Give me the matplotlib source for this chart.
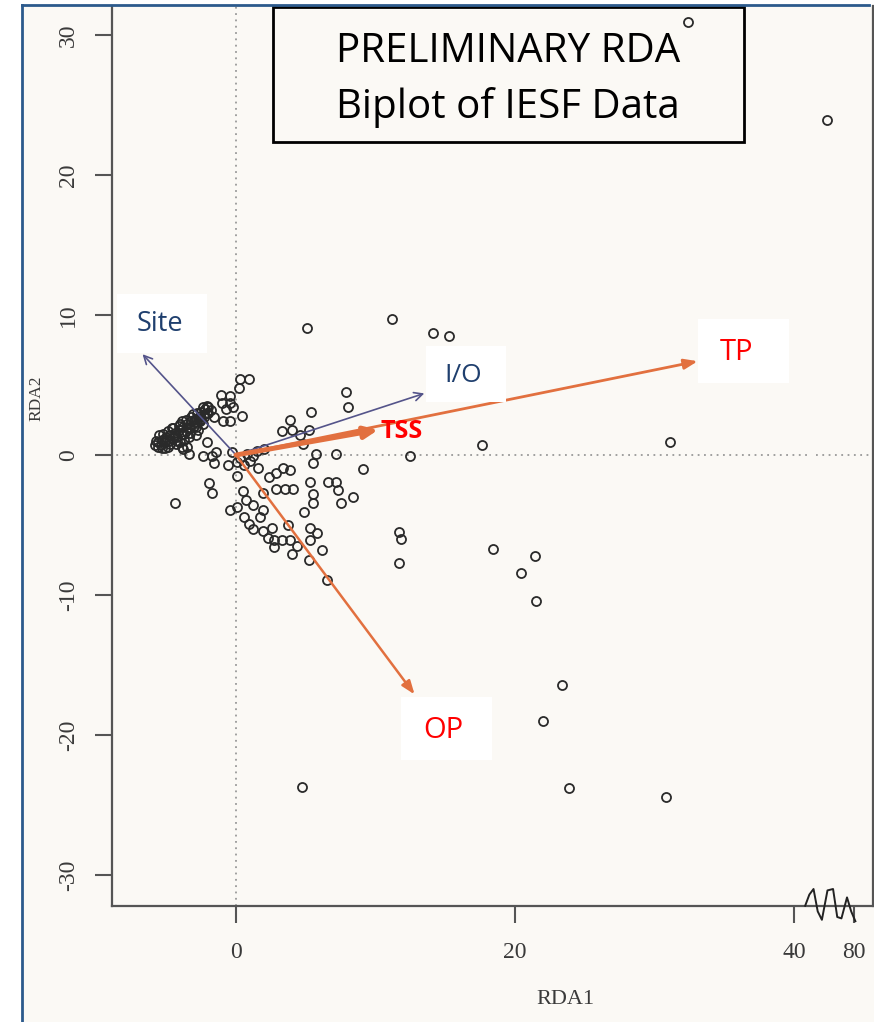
import numpy as np
import matplotlib.pyplot as plt
from matplotlib.patches import Rectangle
from matplotlib.lines import Line2D

# site scores (RDA1, RDA2)
outer_x = [32.4, 62.0, 5.1, 11.2, 14.1, 15.3, 17.6, 31.1, 12.5, 18.4, 20.4, 21.4, 21.5,
           23.4, 22.0, 23.9, 30.8, 4.7, -4.4, 11.7, 11.8, 11.7]
outer_y = [30.9, 23.9, 9.1, 9.7, 8.7, 8.5, 0.7, 0.9, -0.1, -6.7, -8.4, -7.2, -10.4,
           -16.4, -19.0, -23.8, -24.4, -23.7, -3.4, -5.5, -6.0, -7.7]

mid_x = [7.9, 8.0, 5.4, 3.9, 3.3, 4.0, 5.2, 4.6, 4.8, 5.7, 5.5, 7.2, 9.1, 5.3, 6.6, 7.2,
         7.3, 7.5, 8.4, 5.5, 5.5, 4.9, 5.3, 5.8, 5.3, 6.2, 5.2, 6.5]
mid_y = [4.5, 3.4, 3.1, 2.5, 1.7, 1.8, 1.8, 1.4, 0.8, 0.1, -0.6, 0.1, -1.0, -1.9, -1.9, -1.9,
         -2.5, -3.4, -3.0, -2.8, -3.4, -4.1, -5.2, -5.6, -6.1, -6.8, -7.5, -8.9]

near_x = [-0.6, 0.1, 0.1, 0.6, 1.2, 1.6, 2.4, 2.9, 3.4, 3.9, 3.5, 4.1, 2.9, 1.9, 0.5, 0.7,
          -0.4, 0.1, 1.2, 1.9, 0.6, 1.7, 0.9, 1.2, 1.9, 2.6, 2.3, 2.7, 3.3, 3.9, 4.4, 4.0,
          2.7, 3.7, -1.9, -1.7, 0.3, 0.8, 1.5, -0.3, 1.0, 2.0]
near_y = [-0.7, -0.5, -1.5, -0.7, -0.1, -0.9, -1.6, -1.3, -0.9, -1.1, -2.4, -2.4, -2.4, -2.7,
          -2.6, -3.2, -3.9, -3.7, -3.6, -3.9, -4.4, -4.4, -4.9, -5.3, -5.4, -5.2, -5.9, -6.1,
          -6.1, -6.1, -6.5, -7.1, -6.6, -5.0, -2.0, -2.7, -0.2, 0.1, 0.3, 0.2, -0.4, 0.4]

upper_x = [0.3, 0.9, 0.2, -1.1, -0.4, -1.0, -0.4, -0.7, -0.2, 0.4, -0.9, -0.4, -1.6, -2.1,
           -3.9, -3.4, -2.1, -1.4, -1.7, -2.4, -1.6]
upper_y = [5.4, 5.4, 4.8, 4.3, 4.2, 3.7, 3.7, 3.3, 3.4, 2.8, 2.4, 2.4, 2.7, 3.0,
           0.6, 0.1, 0.9, 0.2, -0.1, -0.1, -0.6]

blob_x = [-5.8, -5.6, -5.4, -5.3, -5.1, -5.0, -4.8, -4.7, -4.5, -4.4, -4.2, -4.1, -3.9, -3.8,
          -3.6, -3.5, -3.3, -3.2, -3.0, -2.9, -2.8, -2.6, -2.5, -2.3, -2.2, -2.0, -1.8, -4.9,
          -4.3, -3.7, -5.5, -4.6, -3.4, -3.9, -3.1, -2.7, -3.5, -4.0, -2.9, -2.4, -5.1, -3.8,
          -5.7, -5.2, -4.9, -4.5, -4.0, -3.6, -3.2, -2.8, -2.4, -2.1, -5.3, -4.7, -4.2, -3.7,
          -3.3, -2.9, -2.6, -2.3, -5.6, -5.0, -4.4, -4.1, -3.4, -3.0, -2.5, -2.0]
blob_y = [0.7, 0.9, 0.7, 1.1, 0.9, 1.3, 1.0, 1.4, 1.2, 1.6, 1.3, 1.8, 1.5, 2.0,
          1.7, 2.2, 1.9, 2.4, 2.1, 2.6, 2.3, 2.8, 3.1, 2.7, 3.3, 3.0, 3.2, 0.6,
          0.8, 1.1, 1.4, 1.9, 1.3, 2.4, 2.9, 1.8, 0.6, 0.9, 1.4, 2.2, 0.5, 0.4,
          1.0, 1.5, 1.7, 1.9, 2.2, 2.5, 2.7, 3.0, 3.4, 3.5, 0.5, 0.8, 1.0, 1.5,
          1.6, 2.0, 2.4, 2.9, 0.6, 1.1, 1.4, 2.1, 2.0, 2.5, 2.6, 3.4]

# biplot arrows (environmental variables)
var_names = ['Site', 'I/O', 'TSS', 'TP', 'OP']
var_x = [-6.7, 13.5, 10.2, 33.1, 12.8]
var_y = [7.2, 4.4, 1.8, 6.7, -17.1]

xtick_vals = [0, 20, 40, 80]
ytick_vals = [-30, -20, -10, 0, 10, 20, 30]

bg = '#fbf9f5'
navy = '#1f3f6e'
orange = '#e2703f'
slate = '#54548a'
W, H = 874, 1022


def brk(x):
    # axis is linear up to 40, then squeezed (40 -> 80 over a short stretch)
    x = np.asarray(x, dtype=float)
    return np.where(x > 40, 40 + (x - 40) * 4.3 / 40, x)


def fx(p):
    return p / W


def fy(p):
    return 1 - p / H


fig = plt.figure(figsize=(W / 100, H / 100), dpi=100, facecolor='white')
fig.add_artist(Rectangle((fx(22), 0), 1 - fx(22), fy(5), transform=fig.transFigure,
                         facecolor=bg, edgecolor='none', zorder=-5))
fig.add_artist(Line2D([fx(22), fx(22)], [0, fy(5)], color='#2c5a8c', lw=2, zorder=10))
fig.add_artist(Line2D([fx(22), fx(869)], [fy(5), fy(5)], color='#2c5a8c', lw=2, zorder=10))

ax = fig.add_axes([fx(112), fy(906), (873 - 112) / W, (906 - 6) / H])
ax.set_facecolor(bg)
ax.set_xlim(-124 / 13.95, -124 / 13.95 + 761 / 13.95)
ax.set_ylim(-451 / 14, 449 / 14)

for s in ['left', 'bottom', 'right']:
    ax.spines[s].set_color('#555555')
    ax.spines[s].set_linewidth(1.6)
ax.spines['top'].set_visible(False)

ax.axvline(0, color='#999999', lw=1.3, ls=(0, (1, 2.5)), zorder=1)
ax.plot([-9, 41.2], [0, 0], color='#999999', lw=1.3, ls=(0, (1, 2.5)), zorder=1)
ax.plot([41.6, 46], [0, 0], color='#999999', lw=1.3, ls=(0, (1, 2.5)), zorder=1)

all_x = np.concatenate([outer_x, mid_x, near_x, upper_x, blob_x])
all_y = np.concatenate([outer_y, mid_y, near_y, upper_y, blob_y])
ax.plot(brk(all_x), all_y, ls='none', marker='o', ms=6.5, mfc='none', mec='#2a2a2a',
        mew=1.3, zorder=3)

styles = {
    'Site': dict(arrowstyle='->,head_length=0.6,head_width=0.3', color=slate, lw=1.2),
    'I/O': dict(arrowstyle='->,head_length=0.6,head_width=0.3', color=slate, lw=1.2),
    'TSS': dict(arrowstyle='-|>,head_length=0.8,head_width=0.35', color=orange, lw=3.5),
    'TP': dict(arrowstyle='-|>,head_length=0.8,head_width=0.3', color=orange, lw=2.0),
    'OP': dict(arrowstyle='-|>,head_length=0.8,head_width=0.3', color=orange, lw=1.8),
}
for name, vx, vy in zip(var_names, var_x, var_y):
    props = dict(styles[name], shrinkA=0, shrinkB=0)
    ax.annotate('', xy=(vx, vy), xytext=(0, 0), arrowprops=props, zorder=4)

ax.set_xticks(brk(xtick_vals))
ax.set_xticklabels([str(v) for v in xtick_vals])
ax.set_yticks(ytick_vals)
ax.set_yticklabels([str(v) for v in ytick_vals], rotation=90, va='center')
ax.tick_params(direction='out', length=12, width=1.5, color='#555555',
               labelcolor='#3a3a3a', labelsize=17)
ax.tick_params(axis='x', pad=14)
ax.tick_params(axis='y', pad=12)
for lab in ax.get_xticklabels() + ax.get_yticklabels():
    lab.set_family('Liberation Serif')

# squiggle marking the axis break
sq_x = [40.8, 41.1, 41.4, 41.7, 42.0, 42.4, 42.8, 43.1, 43.4, 43.8, 44.1, 44.4]
sq_y = [-32.2, -31.4, -31.0, -32.6, -33.2, -31.1, -31.0, -33.0, -33.1, -31.6, -32.6, -33.3]
ax.plot(sq_x, sq_y, color='#222222', lw=1.4, clip_on=False, zorder=6)

fig.text(fx(565), fy(1000), 'RDA1', family='Liberation Serif', fontsize=16,
         color='#3a3a3a', ha='center', va='center')
fig.text(fx(36), fy(398), 'RDA2', family='Liberation Serif', fontsize=12.5,
         color='#3a3a3a', ha='center', va='center', rotation=90)

# title box
fig.add_artist(Rectangle((fx(273), fy(142)), (744 - 273) / W, 135 / H, transform=fig.transFigure,
                         facecolor='none', edgecolor='black', lw=2, zorder=8))
fig.text(fx(508), fy(62), 'PRELIMINARY RDA', family='Open Sans', fontsize=29,
         ha='center', va='baseline', zorder=9)
fig.text(fx(508), fy(118), 'Biplot of IESF Data', family='Open Sans', fontsize=29,
         ha='center', va='baseline', zorder=9)

# white label boxes and the labels
boxes = {'Site': (117, 294, 207, 353), 'I/O': (426, 346, 506, 402),
         'TP': (698, 319, 789, 383), 'OP': (401, 697, 492, 760)}
for name, (x0, y0, x1, y1) in boxes.items():
    fig.add_artist(Rectangle((fx(x0), fy(y1)), (x1 - x0) / W, (y1 - y0) / H,
                             transform=fig.transFigure, facecolor='white',
                             edgecolor='none', zorder=8))

label_pos = {'Site': (160, 324), 'I/O': (463, 375), 'TSS': (402, 432),
             'TP': (736, 352), 'OP': (443, 730)}
label_col = {'Site': navy, 'I/O': navy, 'TSS': '#ff0000', 'TP': '#ff0000', 'OP': '#ff0000'}
label_size = {'Site': 19.5, 'I/O': 19, 'TSS': 18, 'TP': 21, 'OP': 21}
for name in var_names:
    lx, ly = label_pos[name]
    fig.text(fx(lx), fy(ly), name, family='Open Sans', fontsize=label_size[name],
             color=label_col[name], ha='center', va='center', zorder=9,
             fontweight='bold' if name == 'TSS' else 'normal')

fig.savefig('out.png', dpi=100, facecolor=fig.get_facecolor())
